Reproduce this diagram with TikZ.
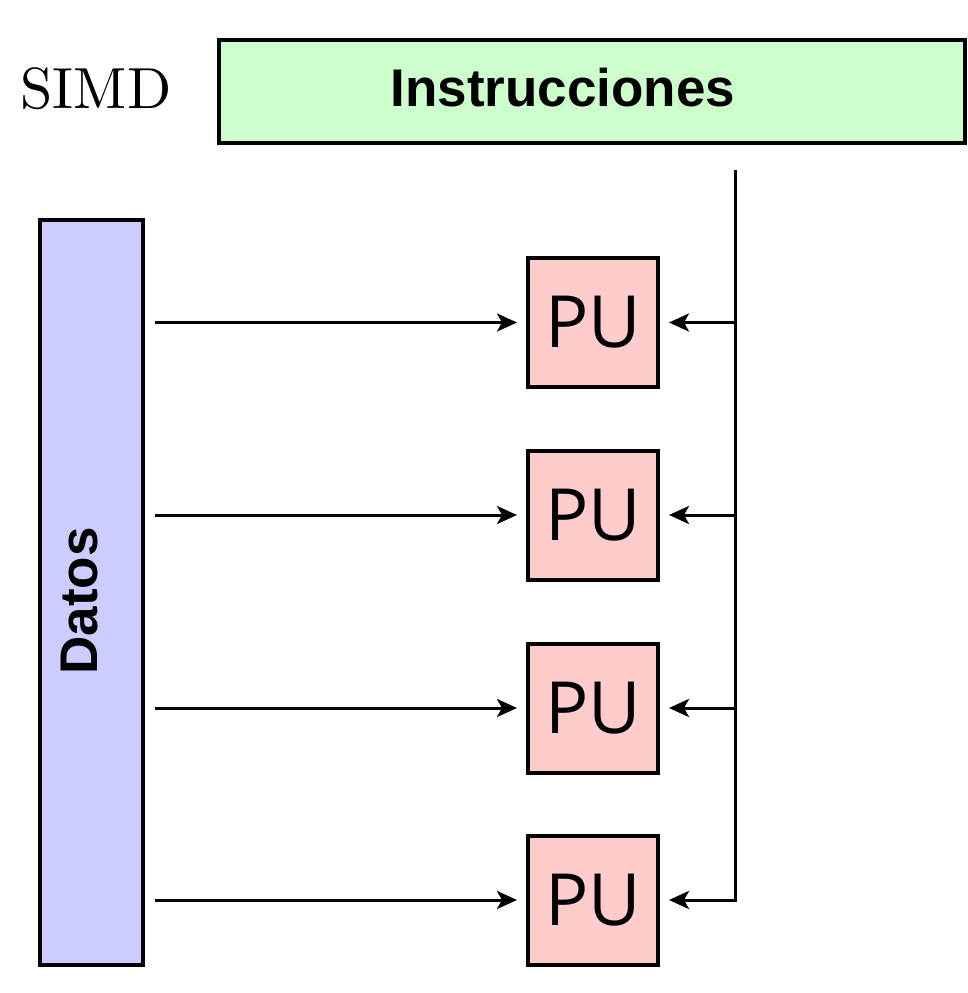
\documentclass[tikz,border=0pt]{standalone}
\usepackage{fontspec}
\newfontfamily\arialbf{Liberation Sans}[BoldFont={* Bold}]
\newfontfamily\pufont{Open Sans}
\newfontfamily\lmten{lmroman10-regular.otf}
\usetikzlibrary{arrows.meta}
\definecolor{instgreen}{HTML}{CCFFCC}
\definecolor{datblue}{HTML}{CCCCFF}
\definecolor{pupink}{HTML}{FFCCCC}
\tikzset{
  blk/.style={draw=black, line width=4pt, inner sep=0pt, outer sep=0pt},
  pubox/.style={blk, fill=pupink, minimum width=130pt, minimum height=129pt,
    font=\pufont\fontsize{72}{80}\selectfont},
  lbl/.style={font=\arialbf\bfseries\fontsize{53}{60}\selectfont, inner sep=0pt},
  conn/.style={line width=3pt, -{Stealth[length=20pt,width=18pt,inset=5pt]}, shorten >=11pt},
  bus/.style={line width=3pt}
}
\begin{document}
\begin{tikzpicture}[x=1pt,y=-1pt]
\useasboundingbox (0,0) rectangle (967,993);
\fill[white] (0,0) rectangle (967,993);
\node[inner sep=0pt] (simd) at (96,89) {\lmten\fontsize{58}{64}\selectfont SIMD};
\node[blk, fill=instgreen, minimum width=746pt, minimum height=103pt] (inst) at (592,91.5) {};
\node[lbl] (insttxt) at (563,88) {Instrucciones};
\node[blk, fill=datblue, minimum width=103pt, minimum height=745pt] (datos) at (91.5,592.5) {};
\node[lbl, rotate=90] (datostxt) at (80,601) {Datos};
\node[pubox] (pu1) at (593,322.5) {PU};
\node[pubox] (pu2) at (593,515) {PU};
\node[pubox] (pu3) at (593,708) {PU};
\node[pubox] (pu4) at (593,900) {PU};
\coordinate (top) at (735,170);
\foreach \i/\y in {1/322.5,2/515,3/708,4/900}{
  \coordinate (s\i) at (155,\y);
  \coordinate (b\i) at (735,\y);
  \draw[conn] (s\i) -- (pu\i);
}
\draw[bus] (top) -- (b4);
\draw[conn] (b1) -- (pu1);
\draw[conn] (b2) -- (pu2);
\draw[conn] (b3) -- (pu3);
\draw[conn, line join=miter] (top) -- (b4) -- (pu4);
\end{tikzpicture}
\end{document}
